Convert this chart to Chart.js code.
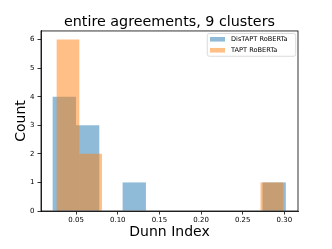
<!DOCTYPE html>
<html><head><meta charset="utf-8">
<script src="https://cdn.jsdelivr.net/npm/chart.js@4"></script>
<style>html,body{margin:0;padding:0;background:#fff}#wrap{width:332px;height:249px}</style>
</head><body>
<div id="wrap"><canvas id="c"></canvas></div>
<script>
const titleText = 'entire agreements, 9 clusters';
const xLabel = 'Dunn Index';
const yLabel = 'Count';
const seriesNames = ['DisTAPT RoBERTa', 'TAPT RoBERTa'];
const disEdges = [0.0218, 0.0498, 0.0778, 0.1058, 0.1338, 0.1618, 0.1898, 0.2178, 0.2458, 0.2738, 0.3018];
const disCounts = [4, 3, 0, 1, 0, 0, 0, 0, 0, 1];
const taptEdges = [0.0266, 0.0538, 0.0810, 0.1082, 0.1354, 0.1626, 0.1898, 0.2170, 0.2442, 0.2714, 0.2986];
const taptCounts = [6, 2, 0, 0, 0, 0, 0, 0, 0, 1];
const xTicks = [0.05, 0.10, 0.15, 0.20, 0.25, 0.30];
const yTicks = [0, 1, 2, 3, 4, 5, 6];
const xMin = 0.0078, xMax = 0.3164, yMin = 0, yMax = 6.3;

const colors = ['rgba(31,119,180,0.5)', 'rgba(255,127,14,0.5)'];
const FONT = 'DejaVu Sans';

function bins(edges, counts) {
  return counts.map((c, i) => ({ x: (edges[i] + edges[i + 1]) / 2, y: c }));
}

const framePlugin = {
  id: 'frame',
  afterDraw(chart) {
    const { ctx, chartArea: a } = chart;
    ctx.save();
    ctx.strokeStyle = '#000';
    ctx.lineWidth = 0.8;
    ctx.strokeRect(a.left, a.top, a.right - a.left, a.bottom - a.top);
    // legend
    const bw = 88.4, bh = 22.8;
    const bx = a.right - 2.3 - bw, by = a.top + 2.5;
    ctx.beginPath();
    if (ctx.roundRect) ctx.roundRect(bx, by, bw, bh, 2); else ctx.rect(bx, by, bw, bh);
    ctx.fillStyle = 'rgba(255,255,255,0.8)';
    ctx.fill();
    ctx.strokeStyle = '#cccccc';
    ctx.lineWidth = 0.7;
    ctx.stroke();
    ctx.font = '6.6px "' + FONT + '"';
    ctx.textBaseline = 'middle';
    ctx.textAlign = 'left';
    chart.data.datasets.forEach((ds, i) => {
      const cy = by + 5.8 + i * 11;
      ctx.fillStyle = ds.backgroundColor;
      ctx.fillRect(bx + 2.7, cy - 2.3, 15, 4.6);
      ctx.fillStyle = '#000';
      ctx.fillText(ds.label, bx + 23.7, cy + 0.3);
    });
    ctx.restore();
  }
};

new Chart(document.getElementById('c'), {
  type: 'bar',
  data: {
    datasets: [
      { label: seriesNames[0], data: bins(disEdges, disCounts), xAxisID: 'x', backgroundColor: colors[0], order: 1 },
      { label: seriesNames[1], data: bins(taptEdges, taptCounts), xAxisID: 'x2', backgroundColor: colors[1], order: 0 }
    ]
  },
  options: {
    responsive: true,
    maintainAspectRatio: false,
    animation: false,
    devicePixelRatio: 1,
    layout: { padding: { left: 0, right: 34, top: 0, bottom: 0 } },
    datasets: { bar: { grouped: false, barPercentage: 1, categoryPercentage: 1, borderWidth: 0, inflateAmount: 0 } },
    plugins: {
      legend: { display: false },
      tooltip: { enabled: false },
      title: {
        display: true, text: titleText, fullSize: false, color: '#000',
        font: { family: FONT, size: 14.3, weight: 'normal', lineHeight: 1.2 },
        padding: { top: 13.6, bottom: 0.2 }
      }
    },
    scales: {
      x: {
        type: 'linear', position: 'bottom', min: xMin, max: xMax, offset: false,
        afterBuildTicks: s => { s.ticks = xTicks.map(v => ({ value: v })); },
        afterFit: s => { s.height = 38; },
        ticks: { color: '#000', font: { family: FONT, size: 7 }, padding: 1, maxRotation: 0, autoSkip: false,
          callback: v => Number(v).toFixed(2) },
        grid: { offset: false, drawOnChartArea: false, drawTicks: true, tickLength: 3.5, tickColor: '#000', tickWidth: 0.8 },
        border: { display: true, color: '#000', width: 0.8 },
        title: { display: true, text: xLabel, color: '#000', font: { family: FONT, size: 14, lineHeight: 1.2 }, padding: { top: 0, bottom: 8.6 } }
      },
      x2: {
        type: 'linear', position: 'top', display: false, min: xMin, max: xMax, offset: false,
        grid: { offset: false },
        afterBuildTicks: s => { s.ticks = []; }
      },
      y: {
        type: 'linear', position: 'left', min: yMin, max: yMax,
        afterBuildTicks: s => { s.ticks = yTicks.map(v => ({ value: v })); },
        afterFit: s => { s.width = 41; },
        ticks: { color: '#000', font: { family: FONT, size: 7 }, padding: 3, autoSkip: false,
          callback: v => String(v) },
        grid: { drawOnChartArea: false, drawTicks: true, tickLength: 3.5, tickColor: '#000', tickWidth: 0.8 },
        border: { display: true, color: '#000', width: 0.8 },
        title: { display: true, text: yLabel, color: '#000', font: { family: FONT, size: 14, lineHeight: 1.2 }, padding: { top: 12.6, bottom: 0 } }
      }
    }
  },
  plugins: [framePlugin]
});
</script>
</body></html>
